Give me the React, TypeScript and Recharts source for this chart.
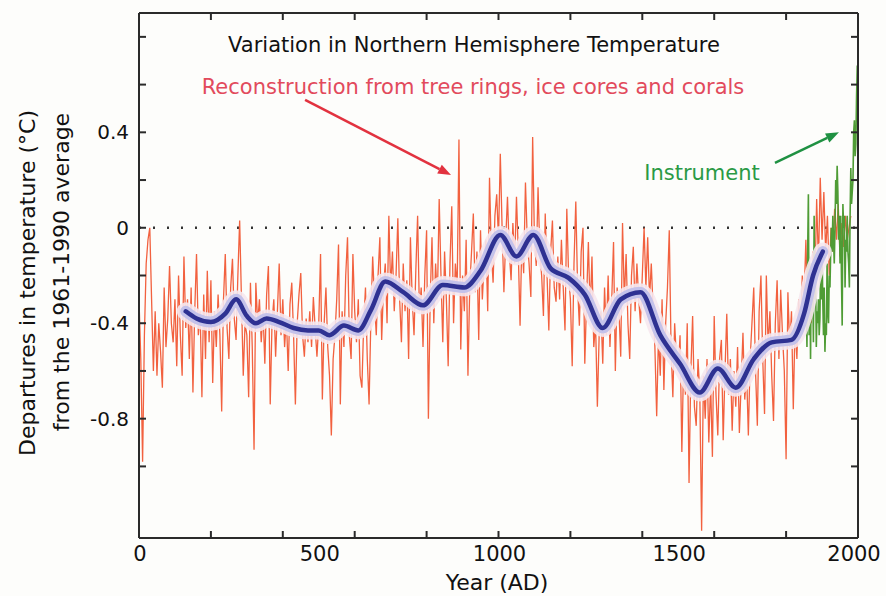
import { ComposedChart, Line, XAxis, YAxis, ReferenceLine } from 'recharts';

// reconstruction, one value every 5 years from 0 AD
const RECON_STEP = 5;
const reconFirstMillennium = [
  -0.30, -0.55, -0.98, -0.45, -0.15, -0.05, 0.0, -0.30, -0.60, -0.35, -0.62, -0.40, -0.52, -0.67, -0.25, -0.50, -0.38, -0.16, -0.40, -0.48,
  -0.30, -0.58, -0.20, -0.45, -0.62, -0.12, -0.42, -0.30, -0.55, -0.25, -0.69, -0.35, -0.11, -0.45, -0.35, -0.71, -0.28, -0.55, -0.18, -0.48,
  -0.22, -0.65, -0.35, -0.50, -0.28, -0.45, -0.77, -0.30, -0.11, -0.42, -0.55, -0.25, -0.13, -0.38, -0.47, -0.20, 0.03, -0.30, -0.62, -0.40,
  -0.45, -0.71, -0.23, -0.50, -0.93, -0.23, -0.40, -0.30, -0.48, -0.35, -0.57, -0.28, -0.16, -0.74, -0.40, -0.30, -0.54, -0.35, -0.15, -0.45,
  -0.30, -0.50, -0.38, -0.60, -0.32, -0.23, -0.45, -0.74, -0.40, -0.28, -0.19, -0.45, -0.54, -0.38, -0.48, -0.35, -0.50, -0.29, -0.42, -0.54,
  -0.40, -0.11, -0.72, -0.40, -0.25, -0.50, -0.62, -0.87, -0.55, -0.45, -0.30, -0.07, -0.74, -0.35, -0.50, -0.20, -0.04, -0.45, -0.55, -0.11,
  -0.35, -0.48, -0.30, -0.62, -0.67, -0.40, -0.25, -0.55, -0.74, -0.38, -0.12, -0.30, -0.45, -0.20, -0.04, -0.47, -0.25, -0.15, -0.40, 0.05,
  -0.25, -0.10, -0.35, -0.20, 0.04, -0.30, -0.48, -0.15, -0.35, -0.22, -0.55, -0.04, -0.30, -0.45, -0.18, 0.05, -0.35, -0.25, -0.50, -0.20,
  -0.01, -0.80, -0.30, -0.04, -0.40, -0.15, -0.30, 0.12, -0.20, -0.48, -0.10, -0.30, -0.58, -0.15, 0.09, -0.40, -0.15, -0.25, 0.37, -0.51,
  -0.20, -0.35, -0.05, -0.62, -0.25, -0.10, 0.06, -0.27, -0.10, -0.47, -0.01, -0.30, -0.15, -0.05, -0.35, 0.21, -0.10, -0.23, 0.05, 0.14,
];
const reconSecondMillennium = [
  -0.05, 0.31, 0.0, -0.27, -0.05, 0.13, -0.10, -0.22, 0.02, -0.15, 0.13, -0.10, -0.41, -0.05, -0.19, 0.19, -0.05, -0.15, -0.29, 0.38,
  -0.05, -0.16, 0.17, -0.10, -0.20, -0.37, 0.06, -0.20, -0.43, -0.10, 0.03, -0.25, -0.31, -0.12, -0.30, -0.05, -0.25, -0.43, 0.08, -0.20,
  -0.30, -0.58, -0.15, 0.11, -0.25, -0.41, -0.10, 0.0, -0.57, -0.30, -0.06, -0.35, -0.12, -0.50, -0.40, -0.75, -0.45, -0.35, -0.57, -0.25,
  -0.45, -0.20, -0.50, -0.30, -0.06, -0.60, -0.25, -0.35, -0.54, 0.02, -0.30, -0.11, -0.40, -0.55, -0.20, -0.08, -0.35, -0.15, -0.30, -0.40,
  -0.20, 0.0, -0.25, -0.04, -0.30, -0.15, -0.34, -0.50, -0.79, -0.45, -0.62, -0.30, -0.68, -0.40, -0.25, -0.01, -0.50, -0.71, -0.40, -0.55,
  -0.60, -0.45, -0.94, -0.55, -0.70, -0.40, -1.07, -0.60, -0.37, -0.75, -0.83, -0.55, -0.70, -1.27, -0.62, -0.80, -0.55, -0.90, -0.65, -0.96,
  -0.37, -0.70, -0.87, -0.55, -0.47, -0.89, -0.60, -0.36, -0.70, -0.55, -0.85, -0.60, -0.75, -0.50, -0.86, -0.65, -0.44, -0.72, -0.60, -0.87,
  -0.55, -0.40, -0.25, -0.60, -0.83, -0.35, -0.20, -0.55, -0.78, -0.20, -0.50, -0.35, -0.62, -0.81, -0.40, -0.22, -0.55, -0.26, -0.45, -0.60,
  -0.97, -0.27, -0.50, -0.35, -0.76, -0.40, -0.55, -0.30, -0.45, -0.20, -0.30, -0.05, -0.35, -0.15, -0.40, -0.10, -0.25, 0.12, -0.15, 0.21,
  -0.05, 0.15, -0.10, 0.05, -0.20, 0.0, -0.10, 0.08, -0.05, 0.10, -0.12, 0.02, -0.08, 0.05, -0.05, 0.0, 0.05,
];

// thermometer record, every 2 years from 1856
const INSTRUMENT_START = 1856;
const INSTRUMENT_STEP = 2;
const instrumentTemps = [
  -0.30, -0.50, -0.10, 0.14, -0.45, -0.20, -0.55, -0.15, -0.35, -0.25, -0.48, 0.05, -0.30, -0.20, -0.50, -0.35, -0.40, -0.30,
  -0.45, -0.38, -0.15, -0.30, -0.10, -0.30, -0.45, -0.25, -0.52, -0.40, -0.45, -0.15, -0.35, -0.40, -0.20, -0.25, -0.10, 0.0,
  -0.10, 0.05, -0.05, -0.15, 0.0, 0.20, 0.10, 0.26, 0.15, -0.05, 0.05, -0.15, 0.05, -0.20, -0.41, 0.10, 0.0, 0.05,
  -0.25, -0.05, -0.10, 0.05, -0.10, -0.15, -0.25, 0.05, 0.25, 0.10, 0.15, 0.20, 0.40, 0.45, 0.30, 0.35, 0.55, 0.68,
];

// 40-year smoothed curve
const smoothYears = [130, 160, 200, 240, 270, 300, 325, 355, 390, 430, 470, 500, 530, 570, 610, 645, 685, 735, 790, 845, 905,
  950, 1005, 1050, 1097, 1145, 1195, 1240, 1290, 1340, 1395, 1450, 1505, 1560, 1610, 1660, 1710, 1760, 1815, 1850, 1875, 1902];
const smoothTemps = [-0.35, -0.38, -0.395, -0.36, -0.30, -0.37, -0.40, -0.38, -0.395, -0.42, -0.43, -0.43, -0.45, -0.41, -0.43,
  -0.345, -0.225, -0.27, -0.325, -0.24, -0.25, -0.18, -0.03, -0.12, -0.03, -0.17, -0.21, -0.28, -0.42, -0.30, -0.27, -0.45,
  -0.57, -0.69, -0.59, -0.67, -0.55, -0.48, -0.47, -0.36, -0.20, -0.10];

const X_MARKS = [200, 400, 600, 800, 1000, 1200, 1400, 1600, 1800];
const X_LABELS = [0, 500, 1000, 1500, 2000];
const X_TICKS = [...new Set([...X_MARKS, ...X_LABELS])].sort((a, b) => a - b);
const Y_TICKS = [-1.0, -0.8, -0.6, -0.4, -0.2, 0, 0.2, 0.4, 0.6, 0.8];
const Y_LABELS = [-0.8, -0.4, 0, 0.4];

// annotation arrows, in data units
const reconArrow = [{ x: 462, y: 0.536 }, { x: 868, y: 0.221 }];
const instrumentArrow = [{ x: 1769, y: 0.272 }, { x: 1947, y: 0.4 }];

const reconData = [...reconFirstMillennium, ...reconSecondMillennium].map((t, i) => ({ year: i * RECON_STEP, t }));
const instrumentData = instrumentTemps.map((t, i) => ({ year: INSTRUMENT_START + i * INSTRUMENT_STEP, t }));
const smoothData = smoothYears.map((year, i) => ({ year, t: smoothTemps[i] }));

const W = 886;
const H = 596;
const FONT = '"DejaVu Sans", Verdana, sans-serif';
const AXIS = '#2a2a2a';
const TICK_LEN = 7;

const has = (list: number[], v: number) => list.some((l) => Math.abs(l - v) < 1e-6);

const BottomTick = ({ x, y, payload }: any) => {
  const v = payload.value;
  return (
    <g>
      {has(X_MARKS, v) && <line x1={x} x2={x} y1={y} y2={y - TICK_LEN} stroke={AXIS} strokeWidth={2} />}
      {has(X_LABELS, v) && (
        <text x={v === 2000 ? x - 4 : x + 1} y={y + 23} textAnchor="middle" fontSize={21} fontFamily={FONT} fill="#111">
          {v}
        </text>
      )}
    </g>
  );
};

const TopTick = ({ x, y }: any) => (
  <line x1={x} x2={x} y1={y} y2={y + TICK_LEN} stroke={AXIS} strokeWidth={2} />
);

const LeftTick = ({ x, y, payload }: any) => (
  <g>
    <line x1={x} x2={x + TICK_LEN} y1={y} y2={y} stroke={AXIS} strokeWidth={2} />
    {has(Y_LABELS, payload.value) && (
      <text x={x - 10} y={y + 7} textAnchor="end" fontSize={20} fontFamily={FONT} fill="#111">
        {Math.abs(payload.value) < 1e-6 ? '0' : payload.value.toFixed(1)}
      </text>
    )}
  </g>
);

const RightTick = ({ x, y }: any) => (
  <line x1={x} x2={x - TICK_LEN} y1={y} y2={y} stroke={AXIS} strokeWidth={2} />
);

const arrowShape = (color: string) => (props: any) => {
  const { x1, y1, x2, y2 } = props;
  const a = Math.atan2(y2 - y1, x2 - x1);
  const len = 13;
  const half = 5;
  const bx = x2 - len * Math.cos(a);
  const by = y2 - len * Math.sin(a);
  const pts = [
    `${x2},${y2}`,
    `${bx + half * Math.sin(a)},${by - half * Math.cos(a)}`,
    `${bx - half * Math.sin(a)},${by + half * Math.cos(a)}`,
  ].join(' ');
  return (
    <g>
      <line x1={x1} y1={y1} x2={bx} y2={by} stroke={color} strokeWidth={2.5} />
      <polygon points={pts} fill={color} />
    </g>
  );
};

export default function App() {
  return (
    <div style={{ position: 'absolute', left: 0, top: 0, width: W, height: H, background: '#fdfdfb' }}>
      <ComposedChart width={W} height={H} margin={{ top: 12, right: 27, bottom: 57, left: 138 }}>
        <XAxis
          xAxisId="b"
          dataKey="year"
          type="number"
          domain={[0, 2000]}
          ticks={X_TICKS}
          interval={0}
          height={1}
          tickSize={0}
          tickMargin={0}
          tickLine={false}
          tick={<BottomTick />}
          axisLine={{ stroke: AXIS, strokeWidth: 2 }}
          allowDataOverflow
        />
        <XAxis
          xAxisId="t"
          orientation="top"
          dataKey="year"
          type="number"
          domain={[0, 2000]}
          ticks={X_MARKS}
          interval={0}
          height={1}
          tickSize={0}
          tickMargin={0}
          tickLine={false}
          tick={<TopTick />}
          axisLine={{ stroke: AXIS, strokeWidth: 2 }}
          allowDataOverflow
        />
        <YAxis
          yAxisId="l"
          type="number"
          domain={[-1.3, 0.9]}
          ticks={Y_TICKS}
          interval={0}
          width={1}
          tickSize={0}
          tickMargin={0}
          tickLine={false}
          tick={<LeftTick />}
          axisLine={{ stroke: AXIS, strokeWidth: 2 }}
          allowDataOverflow
        />
        <YAxis
          yAxisId="r"
          orientation="right"
          type="number"
          domain={[-1.3, 0.9]}
          ticks={Y_TICKS}
          interval={0}
          width={1}
          tickSize={0}
          tickMargin={0}
          tickLine={false}
          tick={<RightTick />}
          axisLine={{ stroke: AXIS, strokeWidth: 2 }}
          allowDataOverflow
        />
        <ReferenceLine xAxisId="b" yAxisId="l" y={0} stroke="#333" strokeWidth={2.5} strokeDasharray="2 12" />
        <Line
          xAxisId="b"
          yAxisId="l"
          data={reconData}
          dataKey="t"
          type="linear"
          stroke="#f2613f"
          strokeWidth={1.3}
          dot={false}
          isAnimationActive={false}
        />
        <Line
          xAxisId="b"
          yAxisId="l"
          data={instrumentData}
          dataKey="t"
          type="linear"
          stroke="#4f9c35"
          strokeWidth={1.6}
          dot={false}
          isAnimationActive={false}
        />
        <Line
          xAxisId="b"
          yAxisId="l"
          data={smoothData}
          dataKey="t"
          type="monotone"
          stroke="#f6e8ee"
          strokeOpacity={0.9}
          strokeWidth={18}
          strokeLinecap="round"
          dot={false}
          isAnimationActive={false}
        />
        <Line
          xAxisId="b"
          yAxisId="l"
          data={smoothData}
          dataKey="t"
          type="monotone"
          stroke="#c4c2ea"
          strokeWidth={11}
          strokeLinecap="round"
          dot={false}
          isAnimationActive={false}
        />
        <Line
          xAxisId="b"
          yAxisId="l"
          data={smoothData}
          dataKey="t"
          type="monotone"
          stroke="#2e3192"
          strokeWidth={4.5}
          strokeLinecap="round"
          dot={false}
          isAnimationActive={false}
        />
        <ReferenceLine xAxisId="b" yAxisId="l" segment={reconArrow} ifOverflow="visible" shape={arrowShape('#e2323f')} />
        <ReferenceLine xAxisId="b" yAxisId="l" segment={instrumentArrow} ifOverflow="visible" shape={arrowShape('#1f9142')} />
      </ComposedChart>
      <svg width={W} height={H} style={{ position: 'absolute', left: 0, top: 0, pointerEvents: 'none' }} fontFamily={FONT}>
        <text x={474} y={52} textAnchor="middle" fontSize={21} fill="#111">
          Variation in Northern Hemisphere Temperature
        </text>
        <text x={473} y={94} textAnchor="middle" fontSize={21} fill="#e24a5c">
          Reconstruction from tree rings, ice cores and corals
        </text>
        <text x={702} y={180} textAnchor="middle" fontSize={21} fill="#2a9a45">
          Instrument
        </text>
        <text transform="translate(35,283) rotate(-90)" textAnchor="middle" fontSize={22} fill="#111">
          Departures in temperature (°C)
        </text>
        <text transform="translate(69,272) rotate(-90)" textAnchor="middle" fontSize={22} fill="#111">
          from the 1961-1990 average
        </text>
        <text x={497} y={590} textAnchor="middle" fontSize={22} fill="#111">
          Year (AD)
        </text>
      </svg>
    </div>
  );
}
